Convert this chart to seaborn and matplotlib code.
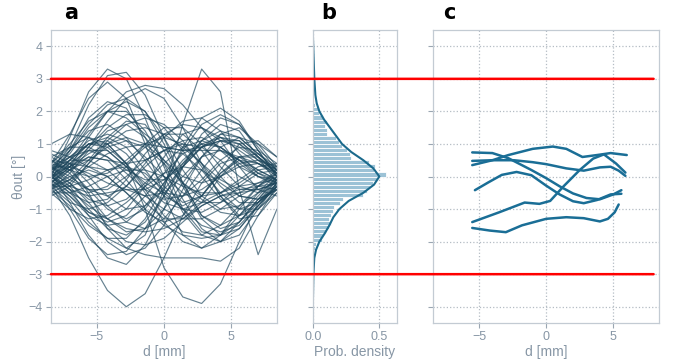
import matplotlib
matplotlib.use("Agg")
import matplotlib.pyplot as plt
from matplotlib.patches import ConnectionPatch
import numpy as np
import pandas as pd
import seaborn as sns

# panel a: simulated output-angle traces, sampled along d [mm]
d_grid = [-8.4, -7.0, -5.6, -4.2, -2.8, -1.4, 0.0, 1.4, 2.8, 4.2, 5.6, 7.0, 8.4]
traces = [
    [0.2, 0.9, 2.2, 3.1, 3.2, 2.5, 1.2, -0.2, -1.2, -1.5, -1.2, -0.6, 0.0],
    [0.0, 1.2, 2.6, 3.3, 3.0, 1.8, 0.3, -1.0, -1.7, -1.8, -1.2, -0.5, 0.1],
    [-0.3, -1.2, -2.5, -3.5, -4.0, -3.6, -2.5, -1.2, -0.2, 0.4, 0.6, 0.4, 0.0],
    [0.6, 0.3, -0.5, -1.6, -2.2, -1.8, -0.4, 1.6, 3.3, 2.6, -0.4, -2.4, -1.0],
    [0.0, 0.5, 1.0, 1.0, 0.4, -1.0, -2.8, -3.7, -3.9, -3.3, -2.0, -0.8, -0.1],
    [0.4, 1.3, 2.4, 2.9, 2.4, 1.0, -0.6, -1.8, -2.2, -1.8, -1.0, -0.3, 0.2],
    [-0.2, 0.3, 1.2, 2.0, 2.6, 2.8, 2.7, 2.2, 1.5, 0.8, 0.3, 0.0, -0.1],
    [0.1, -0.8, -1.8, -2.5, -2.7, -2.1, -1.0, 0.3, 1.3, 1.8, 1.6, 0.9, 0.2],
    [-0.4, -0.9, -1.5, -1.9, -2.2, -2.4, -2.5, -2.5, -2.5, -2.6, -2.2, -1.2, -0.3],
    [0.3, 0.8, 1.4, 1.6, 1.2, 0.5, -0.3, -0.8, -0.6, 0.2, 1.0, 1.1, 0.6],
    [-0.1, 0.5, 1.0, 1.1, 0.7, 0.0, -0.6, -0.9, -0.6, 0.1, 0.6, 0.6, 0.2],
    [0.5, 0.2, -0.4, -1.0, -1.3, -1.0, -0.2, 0.8, 1.6, 1.9, 1.6, 0.8, 0.0],
    [-0.5, -0.2, 0.4, 1.0, 1.4, 1.5, 1.3, 0.9, 0.4, -0.1, -0.4, -0.4, -0.2],
    [0.0, -0.4, -0.9, -1.3, -1.6, -1.7, -1.6, -1.3, -0.9, -0.6, -0.4, -0.3, -0.2],
    [1.0, 1.3, 1.2, 0.8, 0.3, -0.2, -0.5, -0.6, -0.4, 0.0, 0.4, 0.5, 0.3],
    [-0.6, -0.3, 0.4, 1.1, 1.6, 1.8, 1.6, 1.1, 0.3, -0.6, -1.3, -1.2, -0.5],
    [0.2, 0.7, 1.5, 2.0, 2.0, 1.4, 0.4, -0.7, -1.6, -2.0, -1.8, -1.0, -0.2],
    [-0.2, -0.7, -1.4, -1.9, -1.9, -1.3, -0.3, 0.9, 1.8, 2.1, 1.7, 0.8, 0.0],
    [0.3, 0.0, -0.4, -0.6, -0.3, 0.4, 1.2, 1.7, 1.8, 1.4, 0.7, 0.1, -0.2],
    [-0.3, 0.2, 0.6, 0.5, -0.1, -0.8, -1.3, -1.3, -0.8, 0.0, 0.6, 0.7, 0.3],
    [0.1, 0.6, 1.0, 0.9, 0.4, -0.3, -0.8, -1.0, -0.8, -0.5, -0.3, -0.2, -0.1],
    [0.0, -0.3, -0.5, -0.3, 0.3, 1.0, 1.5, 1.5, 1.0, 0.3, -0.3, -0.5, -0.3],
    [0.7, 0.4, -0.2, -0.9, -1.4, -1.6, -1.3, -0.6, 0.2, 0.9, 1.2, 1.0, 0.6],
    [-0.1, 0.8, 1.8, 2.3, 2.1, 1.2, 0.0, -1.1, -1.8, -2.0, -1.6, -0.9, -0.3],
    [0.2, -0.3, -1.0, -1.6, -1.8, -1.4, -0.6, 0.3, 0.9, 1.1, 0.9, 0.5, 0.2],
    [-0.4, -0.1, 0.3, 0.7, 0.9, 1.0, 0.9, 0.8, 0.8, 0.8, 0.6, 0.2, -0.1],
    [0.3, 0.6, 0.8, 0.6, 0.1, -0.4, -0.7, -0.6, -0.1, 0.5, 0.9, 0.8, 0.4],
    [-0.2, -0.6, -1.1, -1.3, -1.0, -0.3, 0.6, 1.3, 1.5, 1.1, 0.3, -0.4, -0.6],
    [0.4, 0.9, 1.2, 1.0, 0.4, -0.4, -1.2, -1.7, -1.8, -1.5, -0.9, -0.3, 0.1],
    [-0.3, -0.8, -1.0, -0.8, -0.3, 0.3, 0.8, 1.0, 0.9, 0.5, 0.0, -0.3, -0.4],
    [0.0, 0.3, 0.9, 1.5, 1.9, 1.9, 1.5, 0.8, 0.0, -0.7, -1.0, -0.8, -0.3],
    [0.5, 0.1, -0.6, -1.3, -1.7, -1.6, -1.0, -0.2, 0.6, 1.1, 1.1, 0.6, 0.1],
    [-0.5, -1.0, -1.3, -1.2, -0.8, -0.3, 0.1, 0.3, 0.2, -0.2, -0.6, -0.7, -0.4],
    [0.2, 0.4, 0.3, 0.0, -0.5, -1.0, -1.5, -1.8, -1.9, -1.8, -1.4, -0.8, -0.2],
    [0.1, 0.8, 1.6, 2.2, 2.4, 2.0, 1.0, -0.2, -1.2, -1.6, -1.4, -0.7, 0.0],
    [-0.1, -0.5, -0.8, -0.7, -0.1, 0.7, 1.3, 1.6, 1.5, 1.2, 0.8, 0.4, 0.1],
    [0.3, -0.1, -0.4, -0.4, 0.0, 0.5, 0.8, 0.7, 0.2, -0.5, -1.0, -1.0, -0.5],
    [0.0, 0.5, 1.3, 2.0, 2.3, 2.0, 1.2, 0.2, -0.6, -1.0, -0.9, -0.5, -0.1],
    [-0.2, -1.0, -1.9, -2.4, -2.3, -1.6, -0.6, 0.4, 1.1, 1.4, 1.2, 0.7, 0.2],
    [0.6, 0.9, 0.9, 0.6, 0.2, -0.1, -0.1, 0.3, 0.9, 1.3, 1.2, 0.7, 0.2],
    [-0.3, -0.3, -0.1, 0.2, 0.3, 0.1, -0.4, -1.0, -1.5, -1.7, -1.5, -0.9, -0.3],
    [0.2, 0.5, 0.5, 0.2, -0.3, -0.6, -0.5, 0.0, 0.6, 0.8, 0.5, 0.0, -0.3],
    [-0.4, 0.1, 0.8, 1.4, 1.6, 1.2, 0.5, -0.2, -0.6, -0.5, -0.1, 0.3, 0.4],
    [0.1, -0.2, -0.8, -1.5, -2.0, -2.1, -1.9, -1.4, -0.9, -0.6, -0.5, -0.4, -0.2],
    [0.4, 1.0, 1.7, 2.0, 1.8, 1.3, 0.9, 0.8, 0.9, 1.1, 1.0, 0.6, 0.1],
    [-0.2, 0.2, 0.9, 1.7, 2.4, 2.7, 2.4, 1.5, 0.4, -0.6, -1.2, -1.0, -0.4],
    [0.0, -0.5, -1.1, -1.4, -1.2, -0.6, 0.1, 0.7, 1.0, 0.9, 0.5, 0.1, -0.1],
    [0.3, 0.3, 0.1, -0.2, -0.4, -0.4, -0.1, 0.4, 0.9, 1.2, 1.1, 0.6, 0.1],
    [-0.1, 0.4, 0.8, 0.8, 0.3, -0.5, -1.4, -2.0, -2.2, -2.0, -1.4, -0.7, -0.1],
    [0.1, -0.4, -1.2, -2.0, -2.4, -2.2, -1.5, -0.4, 0.6, 1.3, 1.5, 1.0, 0.3],
    [0.5, 0.4, 0.0, -0.6, -1.0, -0.9, -0.4, 0.3, 1.1, 1.6, 1.4, 0.6, -0.2],
    [-0.2, 0.3, 0.6, 0.5, 0.4, 0.5, 0.8, 1.1, 1.2, 0.9, 0.4, 0.0, -0.2],
    [0.0, -0.4, -0.6, -0.5, -0.4, -0.6, -1.0, -1.3, -1.3, -1.0, -0.6, -0.3, 0.0],
    [0.8, 0.6, 0.3, 0.2, 0.4, 0.9, 1.3, 1.3, 0.8, 0.0, -0.6, -0.7, -0.4],
    [-0.3, -0.1, 0.5, 1.2, 1.7, 1.6, 0.8, -0.3, -1.3, -1.8, -1.6, -0.9, -0.2],
    [0.2, 0.6, 1.1, 1.3, 1.1, 0.6, 0.0, -0.5, -0.8, -0.8, -0.5, -0.2, 0.1],
    [-0.1, -0.6, -1.2, -1.5, -1.4, -0.9, -0.2, 0.5, 1.0, 1.2, 1.0, 0.5, 0.0],
    [0.4, 0.2, 0.0, 0.1, 0.5, 1.0, 1.2, 1.0, 0.4, -0.3, -0.8, -0.8, -0.4],
    [-0.3, 0.0, 0.2, 0.0, -0.5, -1.1, -1.4, -1.2, -0.6, 0.1, 0.5, 0.4, 0.1],
    [0.1, 0.3, 0.7, 1.0, 1.2, 1.0, 0.5, 0.0, -0.2, 0.0, 0.3, 0.4, 0.2],
    [-0.2, 0.4, 1.0, 1.2, 0.9, 0.2, -0.5, -1.0, -1.1, -0.8, -0.3, 0.1, 0.2],
    [0.3, -0.2, -0.7, -0.9, -0.7, -0.2, 0.4, 0.9, 1.1, 0.9, 0.5, 0.2, -0.1],
    [0.0, 0.2, 0.5, 0.9, 1.1, 0.9, 0.4, -0.2, -0.7, -1.1, -1.2, -0.8, -0.3],
    [-0.5, -0.5, -0.3, 0.0, 0.2, 0.2, 0.0, -0.3, -0.5, -0.5, -0.2, 0.2, 0.3],
]

# panel b: histogram of all angles (bin centres, density) + KDE
bin_width = 0.125
bin_centres = [2.4375, 2.3125, 2.1875, 2.0625, 1.9375, 1.8125, 1.6875, 1.5625,
               1.4375, 1.3125, 1.1875, 1.0625, 0.9375, 0.8125, 0.6875, 0.5625,
               0.4375, 0.3125, 0.1875, 0.0625, -0.0625, -0.1875, -0.3125, -0.4375,
               -0.5625, -0.6875, -0.8125, -0.9375, -1.0625, -1.1875, -1.3125, -1.4375,
               -1.5625, -1.6875, -1.8125, -1.9375, -2.0625, -2.1875, -2.3125, -2.4375]
bin_density = [0.0, 0.005, 0.02, 0.04, 0.05, 0.075, 0.11, 0.09,
               0.105, 0.105, 0.175, 0.2, 0.22, 0.255, 0.28, 0.29,
               0.425, 0.47, 0.46, 0.55, 0.48, 0.45, 0.43, 0.405,
               0.38, 0.225, 0.205, 0.16, 0.155, 0.135, 0.125, 0.14,
               0.12, 0.1, 0.08, 0.07, 0.025, 0.02, 0.012, 0.005]
kde_theta = [4.5, 4.0, 3.5, 3.0, 2.5, 2.25, 2.0, 1.75, 1.5, 1.25, 1.0, 0.75, 0.5, 0.25,
             0.0, -0.25, -0.5, -0.75, -1.0, -1.25, -1.5, -1.75, -2.0, -2.25, -2.5,
             -3.0, -3.5, -4.0, -4.5]
kde_density = [0.0, 0.004, 0.008, 0.012, 0.02, 0.03, 0.05, 0.085, 0.13, 0.175, 0.22,
               0.29, 0.38, 0.455, 0.5, 0.46, 0.38, 0.27, 0.2, 0.155, 0.125, 0.09,
               0.05, 0.025, 0.012, 0.005, 0.003, 0.001, 0.0]

# panel c: measured traces
meas_d = [
    [-5.5, -4.0, -2.8, -1.1, 0.0, 1.0, 2.0, 3.0, 4.0, 5.0, 5.6],
    [-5.5, -4.0, -2.4, -1.0, 0.0, 1.5, 2.8, 4.0, 4.8, 5.4, 5.9],
    [-5.5, -4.0, -2.8, -1.0, 0.5, 1.5, 2.7, 3.8, 4.8, 6.0],
    [-5.3, -4.3, -3.3, -2.2, -1.1, 0.0, 1.0, 2.0, 2.8, 3.8, 4.8, 5.6],
    [-5.5, -3.5, -1.6, -0.5, 0.3, 1.3, 2.5, 3.5, 4.3, 5.2, 5.9],
    [-5.5, -4.2, -3.0, -1.8, 0.0, 1.5, 2.8, 4.0, 4.6, 5.1, 5.4],
]
meas_theta = [
    [0.74, 0.72, 0.56, 0.2, -0.05, -0.3, -0.52, -0.66, -0.7, -0.55, -0.42],
    [0.48, 0.5, 0.5, 0.44, 0.38, 0.25, 0.18, 0.28, 0.3, 0.18, 0.02],
    [0.35, 0.5, 0.66, 0.85, 0.92, 0.85, 0.6, 0.66, 0.72, 0.66],
    [-0.42, -0.18, 0.05, 0.14, 0.04, -0.28, -0.55, -0.76, -0.82, -0.72, -0.55, -0.53],
    [-1.4, -1.1, -0.8, -0.84, -0.75, -0.3, 0.2, 0.55, 0.68, 0.4, 0.12],
    [-1.58, -1.66, -1.71, -1.5, -1.3, -1.25, -1.28, -1.38, -1.3, -1.1, -0.86],
]

limits = [3.0, -3.0]
limit_end = 8.0

sns.set_style("whitegrid")
grey = "#8796a5"
plt.rcParams.update({
    "font.family": ["Liberation Sans", "DejaVu Sans"],
    "axes.edgecolor": "#c3cbd3",
    "axes.linewidth": 0.9,
    "grid.color": "#b4bcc4",
    "grid.linestyle": ":",
    "grid.linewidth": 0.9,
    "xtick.bottom": True,
    "ytick.left": True,
    "xtick.color": "#9aa6b2",
    "ytick.color": "#9aa6b2",
    "xtick.labelcolor": grey,
    "ytick.labelcolor": grey,
    "xtick.labelsize": 9,
    "ytick.labelsize": 9,
    "xtick.major.size": 3.5,
    "ytick.major.size": 3.5,
    "xtick.major.pad": 2.5,
    "ytick.major.pad": 2.5,
    "axes.labelcolor": grey,
    "axes.labelsize": 10,
    "axes.labelpad": 1.5,
})

fig = plt.figure(figsize=(6.77, 3.62), dpi=100)
ax_a = fig.add_axes([0.0753, 0.1077, 0.3338, 0.8094])
ax_b = fig.add_axes([0.4619, 0.1077, 0.125, 0.8094])
ax_c = fig.add_axes([0.640, 0.1077, 0.3334, 0.8094])

rows = []
for i, tr in enumerate(traces):
    for d, t in zip(d_grid, tr):
        rows.append({"trace": i, "d": d, "theta": t})
sim_df = pd.DataFrame(rows)
sns.lineplot(data=sim_df, x="d", y="theta", units="trace", estimator=None,
             color="#1d465c", alpha=0.68, linewidth=0.85, ax=ax_a)
for line in ax_a.get_lines():
    line.set_solid_joinstyle("round")

sns.histplot(y=bin_centres, weights=bin_density,
             binwidth=bin_width, binrange=(-2.5, 2.5),
             color="#9cc2d6", alpha=1.0, edgecolor="white", linewidth=0.6, ax=ax_b)
sns.lineplot(x=kde_density, y=kde_theta, orient="y", estimator=None,
             color="#1b6a8c", linewidth=1.5, ax=ax_b)

meas_rows = []
for i, (ds, ts) in enumerate(zip(meas_d, meas_theta)):
    for d, t in zip(ds, ts):
        meas_rows.append({"trace": i, "d": d, "theta": t})
meas_df = pd.DataFrame(meas_rows)
sns.lineplot(data=meas_df, x="d", y="theta", units="trace", estimator=None, sort=False,
             color="#1a6e96", linewidth=1.8, ax=ax_c)
for line in ax_c.get_lines():
    line.set_solid_joinstyle("round")
    line.set_solid_capstyle("round")

for ax in (ax_a, ax_b, ax_c):
    ax.set_ylim(-4.5, 4.5)
    ax.set_yticks([-4, -3, -2, -1, 0, 1, 2, 3, 4])
    ax.grid(True)
    for s in ax.spines.values():
        s.set_visible(True)

ax_a.set_xlim(-8.4, 8.4)
ax_c.set_xlim(-8.4, 8.4)
ax_a.set_xticks([-5, 0, 5])
ax_c.set_xticks([-5, 0, 5])
ax_b.set_xlim(0, 0.635)
ax_b.set_xticks([0.0, 0.5])
ax_b.set_xticklabels(["0.0", "0.5"])
ax_b.tick_params(axis="y", labelleft=False)
ax_c.tick_params(axis="y", labelleft=False)

ax_a.set_xlabel("d [mm]")
ax_a.set_ylabel("θout [°]")
ax_b.set_xlabel("Prob. density")
ax_b.set_ylabel("")
ax_c.set_xlabel("d [mm]")
ax_c.set_ylabel("")

# red limits run across all three panels
for lim in limits:
    con = ConnectionPatch(xyA=(ax_a.get_xlim()[0], lim), coordsA=ax_a.transData,
                          xyB=(limit_end, lim), coordsB=ax_c.transData,
                          color="#ff0000", linewidth=1.8, zorder=10)
    fig.add_artist(con)

for label, xpos in (("a", 0.094), ("b", 0.474), ("c", 0.654)):
    fig.text(xpos, 0.948, label, fontsize=15, fontweight="bold", color="black",
             family=["DejaVu Sans"], va="baseline")

fig.savefig("out.png", dpi=100)
plt.close(fig)
